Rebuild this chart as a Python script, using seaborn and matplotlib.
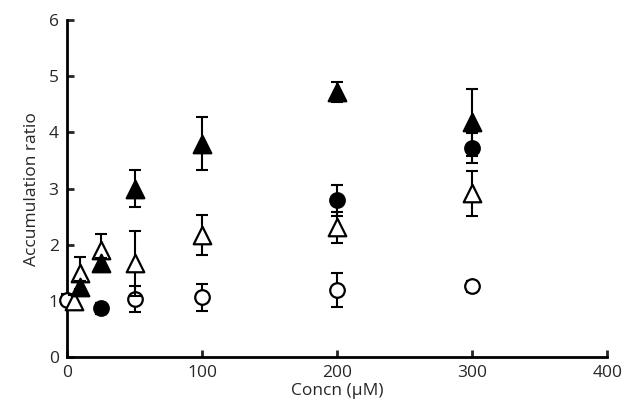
import matplotlib
matplotlib.use("Agg")
import matplotlib.pyplot as plt
import seaborn as sns

# concentrations (uM) and accumulation ratios
tri_filled_x = [10, 25, 50, 100, 200, 300]
tri_filled_y = [1.25, 1.67, 3.0, 3.8, 4.72, 4.18]
tri_filled_err = [0.1, 0.1, 0.33, 0.47, 0.18, 0.6]

tri_open_x = [5, 10, 25, 50, 100, 200, 300]
tri_open_y = [1.0, 1.5, 1.9, 1.67, 2.17, 2.31, 2.92]
tri_open_err = [0.1, 0.28, 0.3, 0.58, 0.36, 0.28, 0.4]

circ_filled_x = [25, 200, 300]
circ_filled_y = [0.87, 2.79, 3.72]
circ_filled_err = [0.1, 0.27, 0.27]

circ_open_x = [0, 50, 100, 200, 300]
circ_open_y = [1.02, 1.03, 1.07, 1.2, 1.26]
circ_open_err = [0.1, 0.23, 0.24, 0.3, 0.1]

sns.set_style("ticks")
plt.rcParams["font.family"] = ["Open Sans", "DejaVu Sans"]

fig = plt.figure(figsize=(6.26, 4.11), dpi=100)
ax = fig.add_axes([0.107, 0.131, 0.863, 0.82])

series = [
    (circ_open_x, circ_open_y, circ_open_err, "o", "white", 110, 3),
    (tri_open_x, tri_open_y, tri_open_err, "^", "white", 160, 4),
    (circ_filled_x, circ_filled_y, circ_filled_err, "o", "black", 110, 5),
    (tri_filled_x, tri_filled_y, tri_filled_err, "^", "black", 160, 6),
]
for x, y, err, m, fc, size, z in series:
    ax.errorbar(x, y, yerr=err, fmt="none", ecolor="black", elinewidth=1.5,
                capsize=4, capthick=1.5, zorder=z - 0.5, clip_on=False)
    sns.scatterplot(x=x, y=y, marker=m, color=fc, edgecolor="black",
                    linewidth=1.6, s=size, ax=ax, zorder=z, clip_on=False)

ax.set_xlim(0, 400)
ax.set_ylim(0, 6)
ax.set_xticks([0, 100, 200, 300, 400])
ax.set_yticks(range(7))
ax.tick_params(direction="in", length=5, width=2, labelsize=12.5, pad=6)
for s in ["left", "bottom"]:
    ax.spines[s].set_linewidth(2)
    ax.spines[s].set_color("black")
sns.despine(ax=ax)
ax.set_ylabel("Accumulation ratio", fontsize=12.5, labelpad=6)
ax.set_xlabel("Concn (μM)", fontsize=12.5, labelpad=1)

fig.savefig("out.png", dpi=100)
